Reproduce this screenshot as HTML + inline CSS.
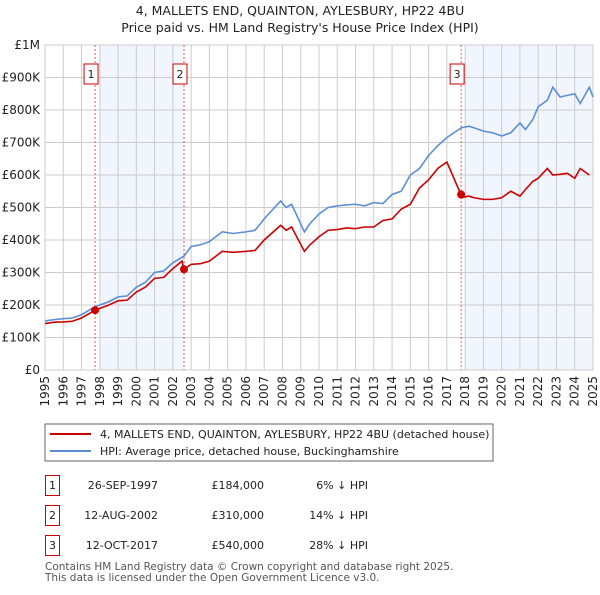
<!DOCTYPE html>
<html><head><meta charset="utf-8"><style>
body{margin:0;background:#fff;font-family:"Liberation Sans","DejaVu Sans",sans-serif;}
svg text{font-family:"DejaVu Sans","Liberation Sans",sans-serif;}
</style></head><body>
<svg id="chart" width="600" height="590" xmlns="http://www.w3.org/2000/svg">
<text x="300" y="15" text-anchor="middle" font-size="12.5" fill="#222">4, MALLETS END, QUAINTON, AYLESBURY, HP22 4BU</text>
<text x="300" y="32" text-anchor="middle" font-size="12.5" fill="#222">Price paid vs. HM Land Registry's House Price Index (HPI)</text>
<g id="shade"></g><g id="grid"></g><g id="axes"></g><g id="series"></g><g id="marks"></g>
<g>
<rect x="45" y="424" width="448" height="37" fill="#fff" stroke="#666"/>
<line x1="50" y1="434" x2="91" y2="434" stroke="#cc0000" stroke-width="2"/>
<text x="100" y="438" font-size="11" fill="#222">4, MALLETS END, QUAINTON, AYLESBURY, HP22 4BU (detached house)</text>
<line x1="50" y1="451" x2="91" y2="451" stroke="#5b8fd4" stroke-width="2"/>
<text x="100" y="455" font-size="11" fill="#222">HPI: Average price, detached house, Buckinghamshire</text>
</g>
<g id="table" font-size="11" fill="#222"></g>
<text x="45" y="570" font-size="10.5" fill="#555">Contains HM Land Registry data © Crown copyright and database right 2025.</text>
<text x="45" y="581" font-size="10.5" fill="#555">This data is licensed under the Open Government Licence v3.0.</text>
</svg>
<script>
const hpiYears=[1995,1995.5,1996,1996.5,1997,1997.75,1998.5,1999,1999.5,2000,2000.5,2001,2001.5,2002,2002.6,2003,2003.5,2004,2004.7,2005.3,2006,2006.5,2007,2007.9,2008.2,2008.5,2009.2,2009.5,2010,2010.5,2011,2011.5,2012,2012.5,2013,2013.5,2014,2014.5,2015,2015.5,2016,2016.5,2017,2017.78,2018.2,2018.5,2019,2019.5,2020,2020.5,2021,2021.3,2021.7,2022,2022.5,2022.8,2023.2,2023.6,2024,2024.3,2024.8,2025];
const hpiValues=[151,155,158,160,170,195,210,225,228,255,270,300,305,330,350,380,385,395,425,420,425,430,465,520,500,510,425,450,480,500,505,508,510,505,515,512,540,550,600,620,660,690,715,745,750,745,735,730,720,730,760,740,770,810,830,870,840,845,850,820,870,840];
const saleYears=[1995,1995.5,1996,1996.5,1997,1997.74,1998.5,1999,1999.5,2000,2000.5,2001,2001.5,2002,2002.5,2002.6,2003,2003.5,2004,2004.7,2005.3,2006,2006.5,2007,2007.9,2008.2,2008.5,2009.2,2009.5,2010,2010.5,2011,2011.5,2012,2012.5,2013,2013.5,2014,2014.5,2015,2015.5,2016,2016.5,2017,2017.77,2017.78,2018.2,2018.5,2019,2019.5,2020,2020.5,2021,2021.3,2021.7,2022,2022.5,2022.8,2023.2,2023.6,2024,2024.3,2024.8,2025];
const saleValues=[143,147,148,150,160,184,200,213,215,240,255,282,285,312,335,310,325,327,335,365,362,365,368,400,445,430,440,365,385,410,430,432,437,435,440,440,460,465,495,510,560,585,620,640,540,530,535,530,525,525,530,550,535,555,580,590,620,600,602,605,590,620,600];
const sales=[{n:"1",year:1997.74,value:184,date:"26-SEP-1997",price:"£184,000",pct:"6% ↓ HPI"},{n:"2",year:2002.61,value:310,date:"12-AUG-2002",price:"£310,000",pct:"14% ↓ HPI"},{n:"3",year:2017.78,value:540,date:"12-OCT-2017",price:"£540,000",pct:"28% ↓ HPI"}];
const yTicks=[0,100,200,300,400,500,600,700,800,900,1000];
const yLabels=["£0","£100K","£200K","£300K","£400K","£500K","£600K","£700K","£800K","£900K","£1M"];
const xTicks=[1995,1996,1997,1998,1999,2000,2001,2002,2003,2004,2005,2006,2007,2008,2009,2010,2011,2012,2013,2014,2015,2016,2017,2018,2019,2020,2021,2022,2023,2024,2025];
const X0=45,X1=593,Y0=370,Y1=45;
const xs=y=>X0+(y-1995)/30*(X1-X0);
const ys=v=>Y0-v/1000*(Y0-Y1);
const NS="http://www.w3.org/2000/svg";
function mk(parent,tag,attrs){const e=document.createElementNS(NS,tag);for(const k in attrs)e.setAttribute(k,attrs[k]);document.getElementById(parent).appendChild(e);return e;}
let e;
e=mk("shade","rect",{x:xs(1998),y:Y1,width:xs(2002.61)-xs(1998),height:Y0-Y1,fill:"#eef3fc",opacity:"0.8"});


e=mk("shade","rect",{x:xs(2018),y:Y1,width:X1-xs(2018),height:Y0-Y1,fill:"#eef3fc",opacity:"0.8"});


yTicks.forEach((t,i)=>{
 e=mk("grid","line",{x1:X0,x2:X1,y1:ys(t),y2:ys(t),stroke:"#cccccc"});
 
 
 e=mk("axes","text",{x:X0-5,y:ys(t)+4,"text-anchor":"end","font-size":"12",fill:"#222"});
 e.textContent=yLabels[i];
 
 
});
xTicks.forEach(t=>{
 e=mk("grid","line",{x1:xs(t),x2:xs(t),y1:Y1,y2:Y0,stroke:"#cccccc"});
 
 
 e=mk("axes","text",{x:xs(t)+4,y:Y0+6,"text-anchor":"end","font-size":"12",fill:"#222",transform:`rotate(-90 ${xs(t)+4} ${Y0+6})`});
 e.textContent=t;
 
 
});
e=mk("series","polyline",{points:hpiYears.map((y,i)=>xs(y)+","+ys(hpiValues[i])).join(" "),fill:"none",stroke:"#5b8fd4","stroke-width":"1.6"});


e=mk("series","polyline",{points:saleYears.map((y,i)=>xs(y)+","+ys(saleValues[i])).join(" "),fill:"none",stroke:"#cc0000","stroke-width":"1.6"});


sales.forEach((s,i)=>{
 const x=xs(s.year);
 e=mk("marks","line",{x1:x,x2:x,y1:Y1,y2:Y0,stroke:"#ee5555","stroke-dasharray":"2,2"});
 
 
 e=mk("marks","rect",{x:x-11,y:64,width:14,height:20,fill:"#fff",stroke:"#cc0000"});
 
 
 e=mk("marks","text",{x:x-4,y:78,"text-anchor":"middle","font-size":"11",fill:"#222"});
 e.textContent=s.n;
 
 
 e=mk("marks","circle",{cx:x,cy:ys(s.value),r:4,fill:"#cc0000"});
 
 
 const ry=475+i*30;
 e=mk("table","rect",{x:45.5,y:ry+0.5,width:14,height:20,fill:"#fff",stroke:"#cc0000"});
 
 
 e=mk("table","text",{x:52.5,y:ry+14,"text-anchor":"middle"});e.textContent=s.n;
 
 
 e=mk("table","text",{x:158,y:ry+14,"text-anchor":"end"});e.textContent=s.date;
 
 
 e=mk("table","text",{x:264,y:ry+14,"text-anchor":"end"});e.textContent=s.price;
 
 
 e=mk("table","text",{x:368,y:ry+14,"text-anchor":"end"});e.textContent=s.pct;
 
 
});
e=mk("axes","rect",{x:X0,y:Y1,width:X1-X0,height:Y0-Y1,fill:"none",stroke:"#cccccc"});


</script>
</body></html>
